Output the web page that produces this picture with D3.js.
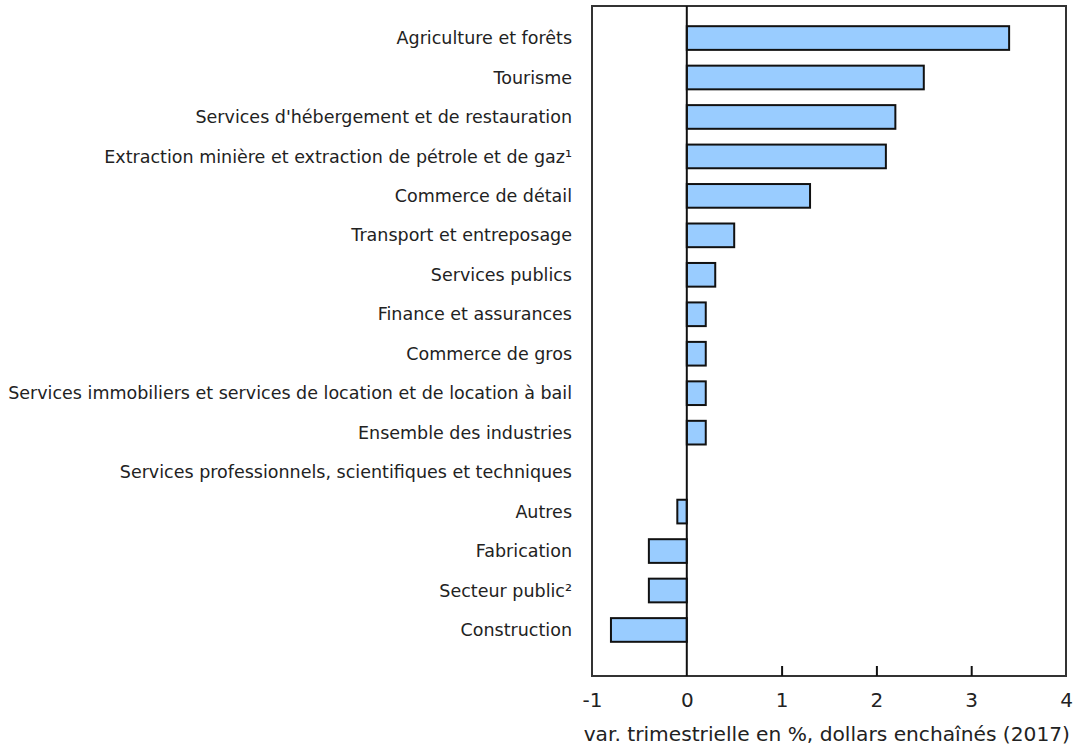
<!DOCTYPE html>
<html><head><meta charset="utf-8">
<script src="https://cdn.jsdelivr.net/npm/d3@7"></script>
<style>body{margin:0;background:#fff}svg{display:block}text{font-family:"DejaVu Sans",Verdana,sans-serif;fill:#222}</style>
</head><body><svg id="c" width="1075" height="753"></svg>
<script>
const categories = ["Agriculture et forêts","Tourisme","Services d'hébergement et de restauration","Extraction minière et extraction de pétrole et de gaz¹","Commerce de détail","Transport et entreposage","Services publics","Finance et assurances","Commerce de gros","Services immobiliers et services de location et de location à bail","Ensemble des industries","Services professionnels, scientifiques et techniques","Autres","Fabrication","Secteur public²","Construction"];
const values = [3.4,2.5,2.2,2.1,1.3,0.5,0.3,0.2,0.2,0.2,0.2,0.0,-0.1,-0.4,-0.4,-0.8];
const xTicks = [-1,0,1,2,3,4];
const axisTitle = "var. trimestrielle en %, dollars enchaînés (2017)";

const svg = d3.select("#c");
const L=592,R=1066,T=6,B=676;
const x = d3.scaleLinear().domain([-1,4]).range([L,R]);
const y = d3.scaleBand().domain(categories).range([18.3,649.7]).paddingInner(0.4).paddingOuter(0.2);

svg.append("g").selectAll("rect").data(values).join("rect")
  .attr("x",(d)=>x(Math.min(0,d))).attr("width",d=>Math.abs(x(d)-x(0)))
  .attr("y",(d,i)=>y(categories[i])).attr("height",y.bandwidth())
  .attr("fill","#99ccff").attr("stroke","#111").attr("stroke-width",2);

svg.append("rect").attr("x",L).attr("y",T).attr("width",R-L).attr("height",B-T)
  .attr("fill","none").attr("stroke","#333").attr("stroke-width",2);
svg.append("line").attr("x1",x(0)).attr("x2",x(0)).attr("y1",T).attr("y2",B).attr("stroke","#111").attr("stroke-width",2);

const ax = svg.append("g").attr("transform",`translate(0,${B})`)
  .call(d3.axisBottom(x).tickValues(xTicks).tickSize(-10).tickPadding(0).tickFormat(d=>String(d)));
ax.select(".domain").remove();
ax.selectAll(".tick line").attr("stroke","#111").attr("stroke-width",2).filter(d=>d===-1||d===4||d===0).remove();
ax.selectAll("text").attr("font-size",20).attr("fill","#222").attr("y",31).attr("dy",null).style("font-family","DejaVu Sans");

svg.append("g").selectAll("text").data(categories).join("text")
  .attr("x",572).attr("y",d=>y(d)+y.bandwidth()/2).attr("dy","0.35em")
  .attr("text-anchor","end").attr("font-size",17.5).text(d=>d);

svg.append("text").attr("x",1070).attr("y",741).attr("text-anchor","end").attr("font-size",20.2).text(axisTitle);
</script></body></html>
